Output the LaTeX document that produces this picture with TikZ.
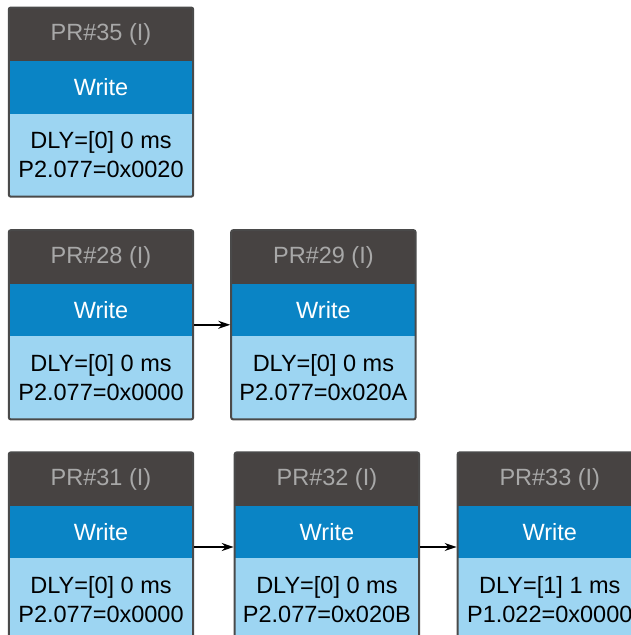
\documentclass[tikz,border=0pt]{standalone}
\usepackage{fontspec}
\setmainfont{Liberation Sans}
\usepackage{tikz}
\usetikzlibrary{
    arrows.meta,
    positioning,
    fit
}
\definecolor{headgray}{HTML}{474342}
\definecolor{headtext}{HTML}{A8A8A8}
\definecolor{writeblue}{HTML}{0A84C5}
\definecolor{datablue}{HTML}{9DD5F2}
\definecolor{boxborder}{HTML}{4A4A4A}
\tikzset{
    pr head/.style={
        rectangle, fill=headgray, text=headtext,
        minimum width=184pt, minimum height=53.6pt,
        inner sep=0pt, font=\fontsize{23.5}{29}\selectfont
    },
    pr write/.style={
        pr head, fill=writeblue, text=white,
        minimum height=52.6pt
    },
    pr data/.style={
        pr head, fill=datablue, text=black,
        minimum height=83pt, align=center
    },
    pr box/.style={
        rectangle, draw=boxborder, line width=2pt,
        rounded corners=2pt, inner sep=0pt
    },
    pr link/.style={
        -{Stealth[length=12pt, width=8pt]}, line width=1.8pt, color=black
    },
}

\begin{document}
\begin{tikzpicture}[x=1pt, y=1pt]
    \useasboundingbox (0,0) rectangle (631,-635);
    \clip (0,0) rectangle (631,-635);

    % single path
    \node[pr head] (pr35h) at (101,-34.5) {PR\#35 (I)};
    \node[pr write, below=-0.6pt of pr35h] (pr35w) {Write};
    \node[pr data, below=-0.6pt of pr35w] (pr35d) {DLY=[0] 0 ms\\P2.077=0x0020};
    \node[pr box, fit=(pr35h)(pr35d)] (pr35) {};

    % two steps
    \node[pr head, below=32.5pt of pr35] (pr28h) {PR\#28 (I)};
    \node[pr write, below=-0.6pt of pr28h] (pr28w) {Write};
    \node[pr data, below=-0.6pt of pr28w] (pr28d) {DLY=[0] 0 ms\\P2.077=0x0000};
    \node[pr box, fit=(pr28h)(pr28d)] (pr28) {};

    \node[pr head, right=38pt of pr28h] (pr29h) {PR\#29 (I)};
    \node[pr write, below=-0.6pt of pr29h] (pr29w) {Write};
    \node[pr data, below=-0.6pt of pr29w] (pr29d) {DLY=[0] 0 ms\\P2.077=0x020A};
    \node[pr box, fit=(pr29h)(pr29d)] (pr29) {};

    % three steps
    \node[pr head, below=32pt of pr28] (pr31h) {PR\#31 (I)};
    \node[pr write, below=-0.6pt of pr31h] (pr31w) {Write};
    \node[pr data, below=-0.6pt of pr31w] (pr31d) {DLY=[0] 0 ms\\P2.077=0x0000};
    \node[pr box, fit=(pr31h)(pr31d)] (pr31) {};

    \node[pr head, right=41.5pt of pr31h] (pr32h) {PR\#32 (I)};
    \node[pr write, below=-0.6pt of pr32h] (pr32w) {Write};
    \node[pr data, below=-0.6pt of pr32w] (pr32d) {DLY=[0] 0 ms\\P2.077=0x020B};
    \node[pr box, fit=(pr32h)(pr32d)] (pr32) {};

    \node[pr head, right=38.5pt of pr32h] (pr33h) {PR\#33 (I)};
    \node[pr write, below=-0.6pt of pr33h] (pr33w) {Write};
    \node[pr data, below=-0.6pt of pr33w] (pr33d) {DLY=[1] 1 ms\\P1.022=0x0000};
    \node[pr box, fit=(pr33h)(pr33d)] (pr33) {};

    \draw[pr link] (pr28) -- (pr29);
    \draw[pr link] (pr31) -- (pr32);
    \draw[pr link] (pr32) -- (pr33);
\end{tikzpicture}
\end{document}
